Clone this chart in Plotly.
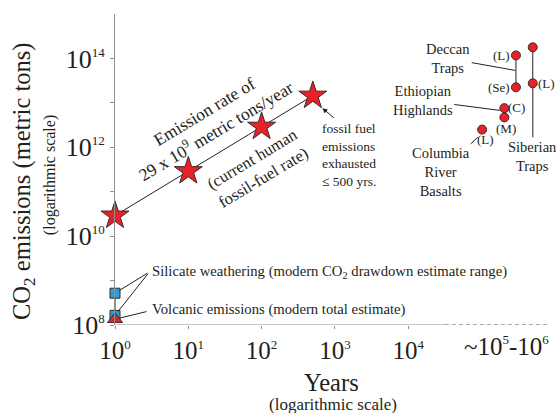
import plotly.graph_objects as go

# ---------------- data ----------------
star_years = [1, 10, 100, 500]
star_emissions = [2.9e10, 2.9e11, 2.9e12, 1.45e13]

silicate_years = [1, 1]
silicate_emissions = [1.65e8, 5.2e8]

volcanic_years = [1]
volcanic_emissions = [1.35e8]

deccan_years = [2.95e5, 2.95e5]
deccan_emissions = [1.17e14, 2.24e13]          # (L), (Se)
siberian_years = [5.0e5, 5.0e5]
siberian_emissions = [1.78e14, 2.75e13]        # (So), (L)
ethiopian_years = [2.05e5, 2.05e5]
ethiopian_emissions = [7.6e12, 4.7e12]         # (C), (M)
columbia_years = [1.02e5]
columbia_emissions = [2.5e12]                  # (L)

x_tickvals = [1, 10, 100, 1000, 10000]
x_exponents = ["0", "1", "2", "3", "4"]
y_tickvals = [1e8, 1e9, 1e10, 1e11, 1e12, 1e13, 1e14]
y_exponents = ["8", "", "10", "", "12", "", "14"]

# ---------------- style ----------------
SERIF = "Liberation Serif, Times New Roman, serif"
TXT = "#231f20"
AX = "#8f8f8f"
RED = "#e8202a"
BLUE = "#1ea3e0"
EDGE = "#3b2a2a"


def pow10(e, sup=13):
    if e == "":
        return ""
    return "10<sup><span style='font-size:%dpx'>%s</span></sup>" % (sup, e)


x_ticktext = [pow10(e) for e in x_exponents]
y_ticktext = [pow10(e) for e in y_exponents]

fig = go.Figure()

# x-axis line: solid to 10^4.5, then dashed (axis break)
fig.add_trace(go.Scatter(x=[1, 10 ** 4.5], y=[1e8, 1e8], mode="lines",
                         line=dict(color=AX, width=1.2), cliponaxis=False,
                         hoverinfo="skip", showlegend=False))
fig.add_trace(go.Scatter(x=[10 ** 4.5, 10 ** 5.9], y=[1e8, 1e8], mode="lines",
                         line=dict(color="#555555", width=1.2, dash="4px,3px"),
                         cliponaxis=False, hoverinfo="skip", showlegend=False))

# silicate weathering range
fig.add_trace(go.Scatter(x=silicate_years, y=silicate_emissions, mode="lines+markers",
                         line=dict(color="#222222", width=1),
                         marker=dict(symbol="square", size=10, color=BLUE,
                                     line=dict(color=EDGE, width=1)),
                         cliponaxis=False, showlegend=False))
# volcanic emissions
fig.add_trace(go.Scatter(x=volcanic_years, y=volcanic_emissions, mode="markers",
                         marker=dict(symbol="triangle-up", size=13, color=RED,
                                     line=dict(color=EDGE, width=1)),
                         cliponaxis=False, showlegend=False))
# fossil fuel emissions
fig.add_trace(go.Scatter(x=star_years, y=star_emissions, mode="lines+markers",
                         line=dict(color="#222222", width=1),
                         marker=dict(symbol="star", size=21, color=RED,
                                     line=dict(color=EDGE, width=1)),
                         cliponaxis=False, showlegend=False))
# LIPs
for xs, ys in [(deccan_years, deccan_emissions), (siberian_years, siberian_emissions),
               (ethiopian_years, ethiopian_emissions), (columbia_years, columbia_emissions)]:
    fig.add_trace(go.Scatter(x=xs, y=ys, mode="lines+markers",
                             line=dict(color="#222222", width=1),
                             marker=dict(symbol="circle", size=9, color=RED,
                                         line=dict(color=EDGE, width=1)),
                             cliponaxis=False, showlegend=False))

ann = []


def txt(x, y, text, size, **kw):
    d = dict(x=x, y=y, text=text, showarrow=False, xanchor="center", yanchor="middle",
             font=dict(family=SERIF, size=size, color=TXT))
    d.update(kw)
    ann.append(d)


def leader(x, y, ax, ay, text="", size=14, standoff=4, head=0):
    ann.append(dict(x=x, y=y, ax=ax, ay=ay, text=text, showarrow=True,
                    arrowhead=head, arrowwidth=1, arrowcolor="#222222",
                    standoff=standoff, arrowsize=1,
                    font=dict(family=SERIF, size=size, color=TXT)))


# fossil fuel annotations (log coordinates for annotations on log axes)
txt(1.30, 12.58, "Emission rate of<br>29 x 10<sup>9</sup> metric tons/year", 17.5, textangle=-31)
txt(1.95, 11.53, "(current human<br>fossil-fuel rate)", 16.5, textangle=-31)
txt(2.80, 11.82, "fossil fuel<br>emissions<br>exhausted<br>≤ 500 yrs.", 13.5,
    xanchor="left", align="left")
leader(2.83, 12.88, 13, 11, head=2, standoff=0)

# silicate / volcanic labels
txt(0.477, 9.19, "Silicate weathering (modern CO<sub>2</sub> drawdown estimate range)", 14.7,
    xanchor="left")
txt(0.477, 8.34, "Volcanic emissions (modern total estimate)", 14.7, xanchor="left")
leader(0.0, 8.716, 34, -21, standoff=5)
leader(0.0, 8.217, 34, -43, standoff=5)
leader(0.0, 8.13, 33, -8, standoff=5)

# LIP labels
txt(5.27, 14.07, "(L)", 13)
txt(5.24, 13.35, "(Se)", 13)
txt(5.92, 14.25, "(So)", 13)
txt(5.89, 13.44, "(L)", 13)
txt(5.48, 12.90, "(C)", 13)
txt(5.33, 12.43, "(M)", 13)
txt(5.06, 12.17, "(L)", 13)

leader(5.46, 13.73, -67, -12, text="Deccan<br>Traps", size=14.5, standoff=0)
leader(5.25, 12.83, -77, -10, text="Ethiopian<br>Highlands", size=14.5, standoff=0)
leader(4.99, 12.29, -40, 38, text="Columbia<br>River<br>Basalts", size=14.5, standoff=4)
leader(5.70, 13.44, 0, 73, text="Siberian<br>Traps", size=14.5, standoff=4)


# axis titles and break label (paper coordinates)
def ptxt(x, y, text, size, **kw):
    d = dict(xref="paper", yref="paper", x=x, y=y, text=text, showarrow=False,
             xanchor="center", yanchor="middle",
             font=dict(family=SERIF, size=size, color=TXT))
    d.update(kw)
    ann.append(d)


ptxt(-0.2125, 0.463, "CO<sub>2</sub> emissions (metric tons)", 24.5, textangle=-90)
ptxt(-0.150, 0.482, "(logarithmic scale)", 16, textangle=-90)
ptxt(0.501, -0.183, "Years", 24.5, height=24)
ptxt(0.503, -0.254, "(logarithmic scale)", 17, height=18)
ptxt(0.905, -0.066, "~" + pow10("5") + "-" + pow10("6"), 25)

fig.update_layout(
    width=560, height=414,
    margin=dict(l=115, r=12, t=14, b=89),
    paper_bgcolor="white", plot_bgcolor="white",
    annotations=ann,
    xaxis=dict(type="log", range=[0, 5.907], showgrid=False, zeroline=False,
               showline=False, ticks="outside", ticklen=3, tickcolor=AX,
               tickvals=x_tickvals, ticktext=x_ticktext,
               tickfont=dict(family=SERIF, size=25, color=TXT)),
    yaxis=dict(type="log", range=[8, 15], showgrid=False, zeroline=False,
               showline=True, linecolor=AX, linewidth=1.2,
               ticks="outside", ticklen=4, tickcolor=AX,
               tickvals=y_tickvals, ticktext=y_ticktext,
               tickfont=dict(family=SERIF, size=26, color=TXT)),
)

fig.write_html("out.html", config={"displayModeBar": False},
               post_script="document.body.style.margin='0px';")
